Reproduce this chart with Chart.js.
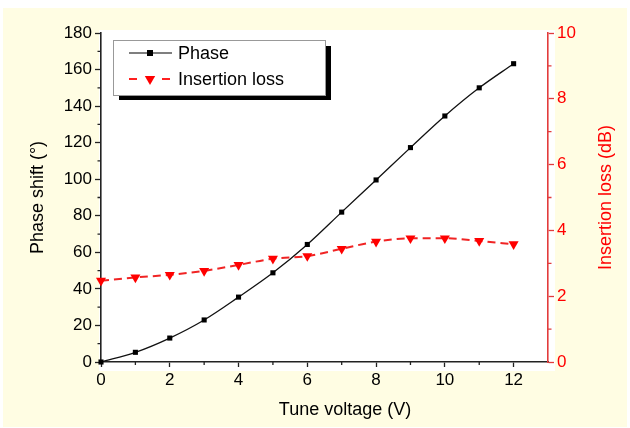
<!DOCTYPE html>
<html>
<head>
<meta charset="utf-8">
<script src="https://cdn.jsdelivr.net/npm/chart.js@4.4.1/dist/chart.umd.min.js"></script>
<style>
  html, body { margin: 0; padding: 0; background: #fff; }
  #wrap { width: 630px; height: 428px; }
</style>
</head>
<body>
<div id="wrap"><canvas id="chart" width="630" height="428"></canvas></div>
<script>
const voltage = [0, 1, 2, 3, 4, 5, 6, 7, 8, 9, 10, 11, 12];
const phaseShift = [0, 5.3, 13.1, 23, 35.5, 48.8, 64.3, 82, 99.6, 117.3, 134.6, 150, 163.2];
const insertionLoss = [2.47, 2.57, 2.65, 2.77, 2.95, 3.14, 3.22, 3.44, 3.66, 3.76, 3.76, 3.68, 3.58];

const xTicks = [0, 2, 4, 6, 8, 10, 12];
const xMinorTicks = [1, 3, 5, 7, 9, 11];
const phaseTicks = [0, 20, 40, 60, 80, 100, 120, 140, 160, 180];
const phaseMinorTicks = [10, 30, 50, 70, 90, 110, 130, 150, 170];
const lossTicks = [0, 2, 4, 6, 8, 10];
const lossMinorTicks = [1, 3, 5, 7, 9];

const FONT = '"Liberation Sans", Arial, sans-serif';
const AXIS_DARK = '#222';
const AXIS_RED = '#e23b3b';

Chart.defaults.font.family = FONT;

// page background: yellow frame + white plot panel
const backgroundPlugin = {
  id: 'background',
  beforeDraw(chart) {
    const { ctx, chartArea: a } = chart;
    ctx.save();
    ctx.fillStyle = '#fff';
    ctx.fillRect(0, 0, chart.width, chart.height);
    ctx.fillStyle = '#fffde3';
    ctx.fillRect(3, 8, 624, 419);
    ctx.fillStyle = '#fff';
    ctx.fillRect(a.left - 2, a.top - 3, a.right - a.left + 9, a.bottom - a.top + 12);
    ctx.restore();
  }
};

function minorTicks(ctx, scale, values, len, color) {
  ctx.strokeStyle = color;
  ctx.lineWidth = 1.3;
  ctx.beginPath();
  values.forEach(v => {
    const p = scale.getPixelForValue(v);
    if (scale.isHorizontal()) {
      ctx.moveTo(p, scale.top);
      ctx.lineTo(p, scale.top + len);
    } else if (scale.position === 'left') {
      ctx.moveTo(scale.right, p);
      ctx.lineTo(scale.right - len, p);
    } else {
      ctx.moveTo(scale.left, p);
      ctx.lineTo(scale.left + len, p);
    }
  });
  ctx.stroke();
}

function downTriangle(ctx, x, y, r) {
  ctx.beginPath();
  ctx.moveTo(x, y + r);
  ctx.lineTo(x - r * 0.866, y - r * 0.5);
  ctx.lineTo(x + r * 0.866, y - r * 0.5);
  ctx.closePath();
  ctx.fill();
}

const decorPlugin = {
  id: 'decor',
  afterDraw(chart) {
    const { ctx, scales } = chart;
    ctx.save();
    minorTicks(ctx, scales.x, xMinorTicks, 3, AXIS_DARK);
    minorTicks(ctx, scales.y, phaseMinorTicks, 3.5, AXIS_DARK);
    minorTicks(ctx, scales.y1, lossMinorTicks, 3.5, AXIS_RED);

    // titles
    ctx.font = '18px ' + FONT;
    ctx.textAlign = 'center';
    ctx.textBaseline = 'middle';
    ctx.fillStyle = '#000';
    ctx.fillText('Tune voltage (V)', 345, 410);
    ctx.save();
    ctx.translate(606, (chart.chartArea.top + chart.chartArea.bottom) / 2);
    ctx.rotate(-Math.PI / 2);
    ctx.fillStyle = '#ff0000';
    ctx.fillText('Insertion loss (dB)', 0, 0);
    ctx.restore();

    // legend box with drop shadow
    ctx.fillStyle = '#000';
    ctx.fillRect(119, 46, 212, 54);
    ctx.fillStyle = '#fff';
    ctx.fillRect(113, 40, 213, 56);
    ctx.strokeStyle = '#999';
    ctx.lineWidth = 1;
    ctx.strokeRect(113.5, 40.5, 212, 55);

    ctx.strokeStyle = '#000';
    ctx.lineWidth = 1.2;
    ctx.beginPath();
    ctx.moveTo(129, 53);
    ctx.lineTo(172, 53);
    ctx.stroke();
    ctx.fillStyle = '#000';
    ctx.fillRect(147, 50, 6, 6);

    ctx.strokeStyle = '#ff2020';
    ctx.lineWidth = 2;
    ctx.beginPath();
    ctx.moveTo(129, 79);
    ctx.lineTo(137, 79);
    ctx.moveTo(162, 79);
    ctx.lineTo(170, 79);
    ctx.stroke();
    ctx.fillStyle = '#ff0000';
    downTriangle(ctx, 150, 79, 6);

    ctx.fillStyle = '#000';
    ctx.textAlign = 'left';
    ctx.font = '18px ' + FONT;
    ctx.fillText('Phase', 178, 54);
    ctx.fillText('Insertion loss', 178, 80);
    ctx.restore();
  }
};

const fixTicks = values => scale => {
  scale.ticks = values.map(v => ({ value: v }));
};

new Chart(document.getElementById('chart'), {
  type: 'line',
  data: {
    datasets: [
      {
        label: 'Phase',
        data: voltage.map((v, i) => ({ x: v, y: phaseShift[i] })),
        yAxisID: 'y',
        borderColor: '#111',
        backgroundColor: '#000',
        borderWidth: 1.3,
        pointStyle: 'rect',
        pointRadius: 3.6,
        pointBorderWidth: 0,
        cubicInterpolationMode: 'monotone',
        clip: false
      },
      {
        label: 'Insertion loss',
        data: voltage.map((v, i) => ({ x: v, y: insertionLoss[i] })),
        yAxisID: 'y1',
        borderColor: '#f02424',
        backgroundColor: '#ff0000',
        borderWidth: 2,
        borderDash: [8, 5],
        pointStyle: 'triangle',
        pointRotation: 180,
        pointRadius: 5.8,
        pointBorderWidth: 0,
        cubicInterpolationMode: 'monotone',
        clip: false
      }
    ]
  },
  options: {
    responsive: false,
    animation: false,
    devicePixelRatio: 1,
    layout: { padding: { top: 33, left: 0, right: 0, bottom: 0 } },
    plugins: {
      legend: { display: false },
      tooltip: { enabled: false }
    },
    scales: {
      x: {
        type: 'linear',
        min: 0,
        max: 13,
        afterBuildTicks: fixTicks(xTicks),
        afterFit: s => { s.height = 66; },
        grid: { drawOnChartArea: false, tickLength: 5, tickColor: AXIS_DARK, tickWidth: 1.3 },
        border: { color: AXIS_DARK, width: 1.6 },
        ticks: { color: '#000', font: { size: 17 }, padding: 3, maxRotation: 0 }
      },
      y: {
        type: 'linear',
        position: 'left',
        min: 0,
        max: 180,
        afterBuildTicks: fixTicks(phaseTicks),
        afterFit: s => { s.width = 101; },
        grid: { drawOnChartArea: false, tickLength: 6, tickColor: AXIS_DARK, tickWidth: 1.3 },
        border: { color: AXIS_DARK, width: 1.6 },
        ticks: { color: '#000', font: { size: 17 }, padding: 3 },
        title: {
          display: true,
          text: 'Phase shift (°)',
          color: '#000',
          font: { size: 18 },
          padding: { top: 27, bottom: 0 }
        }
      },
      y1: {
        type: 'linear',
        position: 'right',
        min: 0,
        max: 10,
        afterBuildTicks: fixTicks(lossTicks),
        afterFit: s => { s.width = 82; },
        grid: { drawOnChartArea: false, tickLength: 6, tickColor: AXIS_RED, tickWidth: 1.3 },
        border: { color: AXIS_RED, width: 1.6 },
        ticks: { color: '#ff0000', font: { size: 17 }, padding: 3 }
      }
    }
  },
  plugins: [backgroundPlugin, decorPlugin]
});
</script>
</body>
</html>
